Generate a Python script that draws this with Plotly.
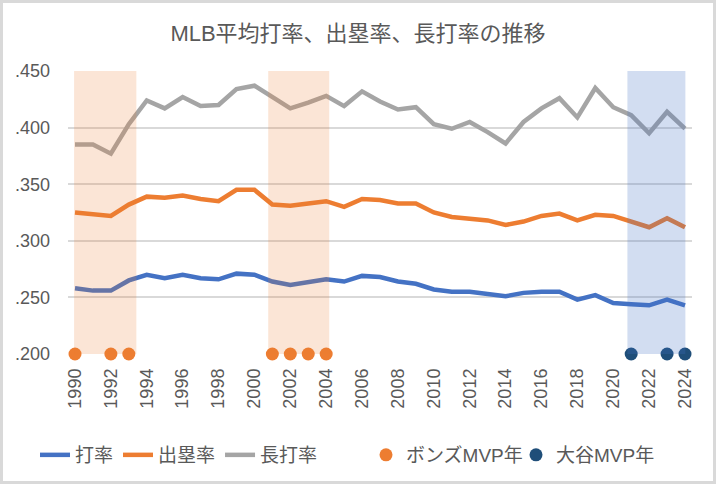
import plotly.graph_objects as go

years = list(range(1990, 2025))
avg = [.258, .256, .256, .265, .270, .267, .270, .267, .266, .271,
       .270, .264, .261, .264, .266, .264, .269, .268, .264, .262,
       .257, .255, .255, .253, .251, .254, .255, .255, .248, .252,
       .245, .244, .243, .248, .243]
obp = [.325, .323, .322, .332, .339, .338, .340, .337, .335, .345,
       .345, .332, .331, .333, .335, .330, .337, .336, .333, .333,
       .325, .321, .319, .318, .314, .317, .322, .324, .318, .323,
       .322, .317, .312, .320, .312]
slg = [.385, .385, .377, .403, .424, .417, .427, .419, .420, .434,
       .437, .427, .417, .422, .428, .419, .432, .423, .416, .418,
       .403, .399, .405, .396, .386, .405, .417, .426, .409, .435,
       .418, .411, .395, .414, .399]
bonds_years = [1990, 1992, 1993, 2001, 2002, 2003, 2004]
ohtani_years = [2021, 2023, 2024]
marker_level = 0.200
bonds_spans = [(1989.95, 1993.42), (2000.77, 2004.17)]
ohtani_spans = [(2020.79, 2024.02)]
y_ticks = [0.200, 0.250, 0.300, 0.350, 0.400, 0.450]
y_labels = [".200", ".250", ".300", ".350", ".400", ".450"]
x_ticks = list(range(1990, 2025, 2))

FONT = "Liberation Sans, Arial, Noto Sans CJK JP, sans-serif"
TXT = "#595959"
W, H = 716, 484
ML, MR, MT, MB = 68, 24, 71, 130
PW, PH = W - ML - MR, H - MT - MB
LEG_Y = -(455 - (H - MB)) / PH

fig = go.Figure()
fig.add_trace(go.Scatter(x=years, y=avg, mode="lines", name="打率",
                         line=dict(color="#4472C4", width=4.5)))
fig.add_trace(go.Scatter(x=years, y=obp, mode="lines", name="出塁率",
                         line=dict(color="#ED7D31", width=4.5)))
fig.add_trace(go.Scatter(x=years, y=slg, mode="lines", name="長打率",
                         line=dict(color="#A5A5A5", width=4.5)))
fig.add_trace(go.Scatter(x=bonds_years, y=[marker_level] * len(bonds_years),
                         mode="markers", name="ボンズMVP年", cliponaxis=False,
                         legend="legend2",
                         marker=dict(color="#ED7D31", size=13)))
fig.add_trace(go.Scatter(x=ohtani_years, y=[marker_level] * len(ohtani_years),
                         mode="markers", name="大谷MVP年", cliponaxis=False,
                         legend="legend3",
                         marker=dict(color="#1F4E79", size=13)))

for x0, x1 in bonds_spans:
    fig.add_shape(type="rect", xref="x", yref="y", x0=x0, x1=x1, y0=0.2, y1=0.45,
                  fillcolor="rgba(237,125,49,0.2)", line_width=0, layer="above")
for x0, x1 in ohtani_spans:
    fig.add_shape(type="rect", xref="x", yref="y", x0=x0, x1=x1, y0=0.2, y1=0.45,
                  fillcolor="rgba(68,114,196,0.24)", line_width=0, layer="above")

# chart-area border
fig.add_shape(type="rect", xref="paper", yref="paper",
              x0=-(ML - 1.5) / PW, x1=1 + (MR - 1.5) / PW,
              y0=-(MB - 1.5) / PH, y1=1 + (MT - 1.5) / PH,
              line=dict(color="#D9D9D9", width=3), layer="above")

leg_common = dict(orientation="h", xanchor="left", y=LEG_Y, yanchor="middle",
                  font=dict(size=19, color=TXT, family=FONT),
                  bgcolor="rgba(0,0,0,0)", traceorder="normal")

fig.update_layout(
    width=W, height=H,
    margin=dict(l=ML, r=MR, t=MT, b=MB, autoexpand=False),
    paper_bgcolor="white", plot_bgcolor="white",
    font=dict(family=FONT, color=TXT, size=17),
    title=dict(text="MLB平均打率、出塁率、長打率の推移", x=0.5, xref="container",
               xanchor="center", y=1 - 33 / H, yanchor="middle",
               font=dict(size=22, color=TXT, family=FONT)),
    showlegend=True,
    legend=dict(x=(35 - ML) / PW, **leg_common),
    legend2=dict(x=(366 - ML) / PW, **leg_common),
    legend3=dict(x=(516 - ML) / PW, **leg_common),
    xaxis=dict(range=[1989.61, 2024.39], tickvals=x_ticks, tickangle=-90,
               showgrid=False, zeroline=False, showline=False, ticks="",
               ticklabelstandoff=10,
               tickfont=dict(size=18, color=TXT)),
    yaxis=dict(range=[0.2, 0.45], tickvals=y_ticks, ticktext=y_labels,
               showgrid=True, gridcolor="#D9D9D9", gridwidth=1.5, zeroline=False,
               showline=False, ticks="", ticklabelstandoff=17,
               tickfont=dict(size=18, color=TXT)),
)

fig.write_html("out.html", config={"displayModeBar": False},
               post_script="document.body.style.margin='0';")
